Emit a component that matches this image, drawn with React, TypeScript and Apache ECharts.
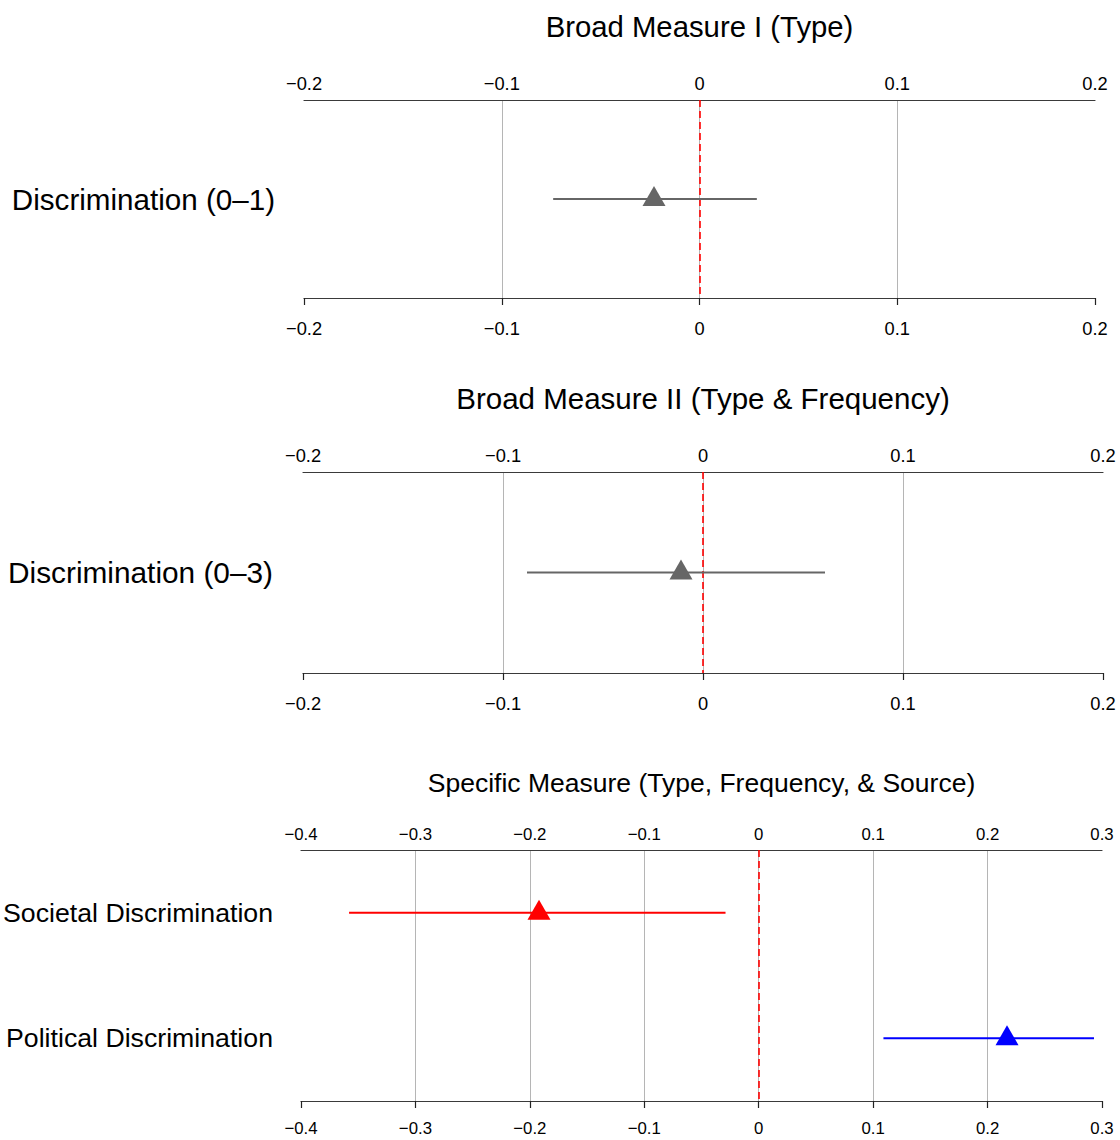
import React, { useEffect, useRef } from "react";
import * as echarts from "echarts";

const FONT = "'Liberation Sans', Arial, Helvetica, sans-serif";

const panelTitles = [
  "Broad Measure I (Type)",
  "Broad Measure II (Type & Frequency)",
  "Specific Measure (Type, Frequency, & Source)",
];

// Broad Measure I
const broadIRows = ["Discrimination (0–1)"];
const broadIEstimate = [-0.023];
const broadILower = [-0.074];
const broadIUpper = [0.029];

// Broad Measure II
const broadIIRows = ["Discrimination (0–3)"];
const broadIIEstimate = [-0.011];
const broadIILower = [-0.088];
const broadIIUpper = [0.061];

// Specific Measure
const specificRows = ["Societal Discrimination", "Political Discrimination"];
const specificEstimate = [-0.192, 0.217];
const specificLower = [-0.358, 0.109];
const specificUpper = [-0.029, 0.293];

// Axis ranges: [min, max, step]
const broadAxisRange = [-0.2, 0.2, 0.1];
const specificAxisRange = [-0.4, 0.3, 0.1];

const GREY = "#666666";
const specificColors = ["#ff0000", "#0000ff"];

function fmtTick(v: number): string {
  const s = Math.abs(v) < 1e-9 ? "0" : v.toFixed(1);
  return s.replace("-", "\u2212");
}

function buildOption() {
  const panels = [
    {
      title: panelTitles[0],
      rows: broadIRows,
      est: broadIEstimate,
      lo: broadILower,
      hi: broadIUpper,
      colors: [GREY],
      range: broadAxisRange,
      rect: { left: 304, top: 100, width: 791, height: 198 },
      titleTop: 12,
      titleSize: 29.3,
      labelSize: 29.6,
      tickSize: 18.3,
      labelMargin: 29,
      topMargin: 8,
      bottomMargin: 21,
    },
    {
      title: panelTitles[1],
      rows: broadIIRows,
      est: broadIIEstimate,
      lo: broadIILower,
      hi: broadIIUpper,
      colors: [GREY],
      range: broadAxisRange,
      rect: { left: 303, top: 472, width: 800, height: 201 },
      titleTop: 383,
      titleSize: 29.5,
      labelSize: 29.8,
      tickSize: 18.3,
      labelMargin: 30,
      topMargin: 8,
      bottomMargin: 21,
    },
    {
      title: panelTitles[2],
      rows: specificRows,
      est: specificEstimate,
      lo: specificLower,
      hi: specificUpper,
      colors: specificColors,
      range: specificAxisRange,
      rect: { left: 301, top: 850, width: 801, height: 251 },
      titleTop: 769,
      titleSize: 26.5,
      labelSize: 26.7,
      tickSize: 16.8,
      labelMargin: 28,
      topMargin: 7,
      bottomMargin: 19,
    },
  ];

  const title: any[] = [];
  const grid: any[] = [];
  const xAxis: any[] = [];
  const yAxis: any[] = [];
  const series: any[] = [];

  panels.forEach((p, k) => {
    const cx = p.rect.left + p.rect.width / 2;
    title.push({
      text: p.title,
      left: cx,
      top: p.titleTop,
      textAlign: "center",
      padding: 0,
      textStyle: {
        fontSize: p.titleSize,
        fontWeight: "normal",
        color: "#000",
        fontFamily: FONT,
      },
    });

    grid.push({ ...p.rect, containLabel: false });

    const [min, max, interval] = p.range;
    const axisBase = {
      gridIndex: k,
      type: "value",
      min,
      max,
      interval,
      axisLine: { show: true, onZero: false, lineStyle: { color: "#3a3a3a", width: 1.2 } },
    };
    const labelBase = {
      color: "#000",
      fontSize: p.tickSize,
      fontFamily: FONT,
      formatter: fmtTick,
      showMinLabel: true,
      showMaxLabel: true,
    };

    // top axis carries the vertical reference grid
    xAxis.push({
      ...axisBase,
      position: "top",
      axisTick: { show: false },
      axisLabel: { ...labelBase, margin: p.topMargin },
      splitLine: {
        show: true,
        showMinLine: false,
        showMaxLine: false,
        lineStyle: { color: "#b5b5b5", width: 1 },
      },
    });
    // bottom axis with outward ticks
    xAxis.push({
      ...axisBase,
      position: "bottom",
      axisTick: { show: true, inside: false, length: 7, lineStyle: { color: "#222", width: 1.2 } },
      axisLabel: { ...labelBase, margin: p.bottomMargin },
      splitLine: { show: false },
    });

    yAxis.push({
      gridIndex: k,
      type: "category",
      inverse: true,
      data: p.rows,
      axisLine: { show: false },
      axisTick: { show: false },
      splitLine: { show: false },
      axisLabel: {
        color: "#000",
        fontSize: p.labelSize,
        fontFamily: FONT,
        margin: p.labelMargin,
      },
    });

    p.rows.forEach((row, i) => {
      const color = p.colors[i % p.colors.length];
      const lineSeries: any = {
        type: "line",
        xAxisIndex: 2 * k + 1,
        yAxisIndex: k,
        data: [
          [p.lo[i], row],
          [p.hi[i], row],
        ],
        symbol: "none",
        silent: true,
        z: 3,
        lineStyle: { color, width: 2 },
      };
      if (i === 0) {
        // zero reference line
        lineSeries.markLine = {
          silent: true,
          symbol: "none",
          label: { show: false },
          lineStyle: { color: "#ff0000", width: 1.6, type: [7, 4] },
          data: [{ xAxis: 0 }],
          z: 2,
        };
      }
      series.push(lineSeries);
      series.push({
        type: "scatter",
        xAxisIndex: 2 * k + 1,
        yAxisIndex: k,
        data: [[p.est[i], row]],
        symbol: "triangle",
        symbolSize: [23, 20],
        symbolOffset: [0, -3],
        silent: true,
        z: 4,
        itemStyle: { color, opacity: 1 },
      });
    });
  });

  return {
    animation: false,
    backgroundColor: "#ffffff",
    textStyle: { fontFamily: FONT },
    title,
    grid,
    xAxis,
    yAxis,
    series,
  };
}

export default function App() {
  const ref = useRef<HTMLDivElement>(null);

  useEffect(() => {
    if (!ref.current) return;
    const chart = echarts.init(ref.current, undefined, { renderer: "svg" });
    chart.setOption(buildOption() as any);
    return () => chart.dispose();
  }, []);

  return (
    <div
      ref={ref}
      style={{ position: "absolute", left: 0, top: 0, width: 1120, height: 1140, background: "#fff" }}
    />
  );
}
